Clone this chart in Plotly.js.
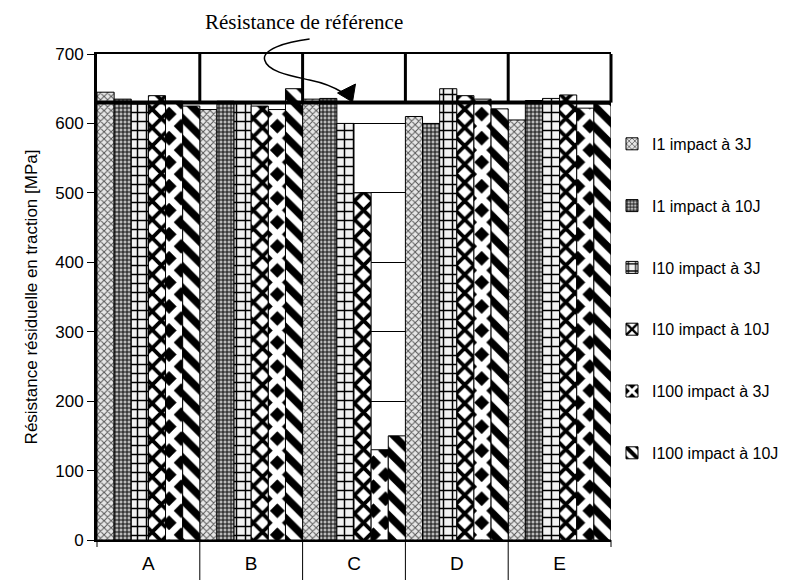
<!DOCTYPE html>
<html>
<head>
<meta charset="utf-8">
<script src="https://cdn.plot.ly/plotly-3.0.1.min.js"></script>
<style>html,body{margin:0;padding:0;background:#fff}#chart{width:795px;height:580px}</style>
</head>
<body>
<div id="chart"></div>
<script>
// ---- data ----
const categories = ['A', 'B', 'C', 'D', 'E'];
const seriesNames = ['I1 impact à 3J', 'I1 impact à 10J', 'I10 impact à 3J', 'I10 impact à 10J', 'I100 impact à 3J', 'I100 impact à 10J'];
const i1_3J    = [645, 620, 635, 610, 605];
const i1_10J   = [635, 632, 636, 600, 633];
const i10_3J   = [628, 630, 600, 650, 636];
const i10_10J  = [640, 625, 500, 640, 641];
const i100_3J  = [632, 620, 130, 635, 622];
const i100_10J = [625, 650, 150, 621, 628];
const refValue = 630;
const refLabel = 'Résistance de référence';
const yTicks = [0, 100, 200, 300, 400, 500, 600, 700];
const yTitle = 'Résistance résiduelle en traction [MPa]';

// ---- styles ----
const patterns = [
  {shape: 'x', size: 5, solidity: 0.35, fgcolor: '#555', bgcolor: '#e6e6e6', fillmode: 'replace'},
  {shape: '+', size: 4, solidity: 0.45, fgcolor: '#111', bgcolor: '#bbb', fillmode: 'replace'},
  {shape: '+', size: 9, solidity: 0.3, fgcolor: '#000', bgcolor: '#f2f2f2', fillmode: 'replace'},
  {shape: 'x', size: 13, solidity: 0.5, fgcolor: '#000', bgcolor: '#fff', fillmode: 'replace'},
  {shape: 'x', size: 17, solidity: 0.62, fgcolor: '#fff', bgcolor: '#000', fillmode: 'replace'},
  {shape: '\\', size: 15, solidity: 0.5, fgcolor: '#000', bgcolor: '#fff', fillmode: 'replace'}
];
const allSeries = [i1_3J, i1_10J, i10_3J, i10_10J, i100_3J, i100_10J];

const traces = allSeries.map((vals, i) => ({
  type: 'bar',
  name: seriesNames[i],
  x: categories,
  y: vals,
  legendgroup: 'g' + i,
  marker: {color: '#fff', line: {color: '#000', width: 1}, pattern: patterns[i]},
  hoverinfo: 'x+y+name'
}));

const M = {l: 97, r: 183, t: 54, b: 40};
const W = 795, H = 580;
const pw = W - M.l - M.r, ph = H - M.t - M.b;
const px = x => (x - M.l) / pw;
const py = y => (H - M.b - y) / ph;

const shapes = [];
// reference line
shapes.push({type: 'line', xref: 'paper', yref: 'y', x0: 0, x1: 1, y0: refValue, y1: refValue, line: {color: '#000', width: 4}, layer: 'above'});
// dividers above reference line
for (let i = 1; i <= 5; i++) {
  shapes.push({type: 'line', xref: 'paper', yref: 'y', x0: i / 5, x1: i / 5, y0: refValue, y1: 700, line: {color: '#000', width: 3}, layer: 'above'});
}
// dividers below axis
for (let i = 0; i <= 5; i++) {
  const long = i > 0 && i < 5;
  shapes.push({type: 'line', xref: 'paper', yref: 'paper', x0: i / 5, x1: i / 5, y0: 0, y1: long ? py(H) : py(H - M.b + 7), line: {color: '#000', width: 1}, layer: 'above'});
}
// curved arrow from label to reference line
const pts = [[310, 39], [285, 42], [262, 50], [265, 60], [268, 72], [292, 76], [310, 80], [325, 83], [336, 88], [344, 93]];
let path = 'M' + px(pts[0][0]) + ',' + py(pts[0][1]);
for (let k = 1; k < pts.length; k += 3) {
  path += ' C' + [pts[k], pts[k + 1], pts[k + 2]].map(p => px(p[0]) + ',' + py(p[1])).join(' ');
}
shapes.push({type: 'path', xref: 'paper', yref: 'paper', path: path, line: {color: '#000', width: 1.5}, layer: 'above'});
const head = [[338, 93], [356, 84], [353, 102]];
shapes.push({type: 'path', xref: 'paper', yref: 'paper',
  path: 'M' + head.map(p => px(p[0]) + ',' + py(p[1])).join(' L') + ' Z',
  fillcolor: '#000', line: {color: '#000', width: 1}, layer: 'above'});

const layout = {
  width: W, height: H,
  margin: M,
  paper_bgcolor: '#fff', plot_bgcolor: '#fff',
  font: {family: 'Liberation Sans, Arial, sans-serif', color: '#000', size: 16},
  barmode: 'group', bargap: 0, bargroupgap: 0,
  showlegend: true,
  legend: {x: 1.0, xanchor: 'left', y: 0.85, yanchor: 'top', font: {size: 16}, tracegroupgap: 38, bgcolor: 'rgba(0,0,0,0)'},
  xaxis: {
    type: 'category', showline: true, linecolor: '#000', linewidth: 2, mirror: true,
    ticks: '', tickfont: {size: 19}, ticklabelstandoff: 5, showgrid: false, zeroline: false, fixedrange: true
  },
  yaxis: {
    range: [0, 700], tickvals: yTicks, ticks: 'outside', ticklen: 7, tickcolor: '#000',
    showline: true, linecolor: '#000', linewidth: 3,
    showgrid: true, gridcolor: '#000', gridwidth: 1, zeroline: false,
    tickfont: {size: 17},
    title: {text: yTitle, font: {size: 17}, standoff: 14}
  },
  shapes: shapes,
  annotations: [{
    text: refLabel, xref: 'paper', yref: 'paper', x: px(304), y: py(22), xanchor: 'center', yanchor: 'middle',
    showarrow: false, font: {family: 'Liberation Serif, Times New Roman, serif', size: 21, color: '#000'}
  }]
};

Plotly.newPlot('chart', traces, layout, {displayModeBar: false, staticPlot: true});
</script>
</body>
</html>
